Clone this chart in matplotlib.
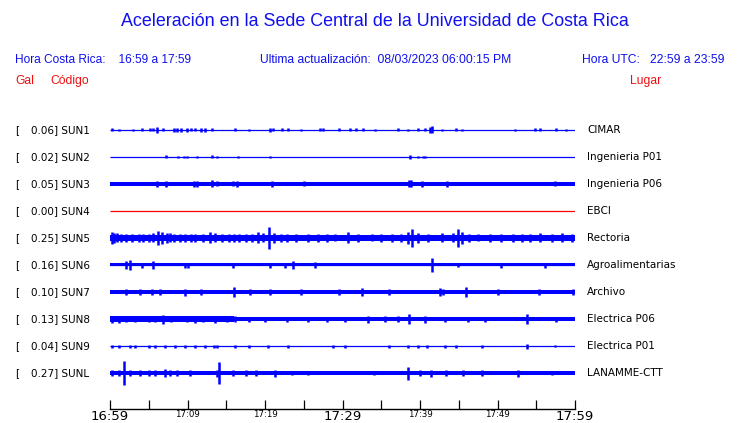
import matplotlib
matplotlib.use("Agg")
import matplotlib.pyplot as plt
from matplotlib.transforms import blended_transform_factory

# station table
codes = ["SUN1", "SUN2", "SUN3", "SUN4", "SUN5", "SUN6", "SUN7", "SUN8", "SUN9", "SUNL"]
gals = [0.06, 0.02, 0.05, 0.00, 0.25, 0.16, 0.10, 0.13, 0.04, 0.27]
places = ["CIMAR", "Ingenieria P01", "Ingenieria P06", "EBCI", "Rectoria",
          "Agroalimentarias", "Archivo", "Electrica P06", "Electrica P01", "LANAMME-CTT"]
trace_colors = ["blue", "blue", "blue", "red", "blue", "blue", "blue", "blue", "blue", "blue"]

# background noise level (start min, end min, half amplitude) per station
noise = [
    [(0, 60, 0.5)],
    [(0, 60, 0.4)],
    [(0, 60, 1.8)],
    [(0, 60, 0.3)],
    [(0, 60, 3.0)],
    [(0, 60, 1.5)],
    [(0, 60, 2.0)],
    [(0, 16, 2.7), (16, 60, 1.8)],
    [(0, 60, 0.5)],
    [(0, 60, 1.8)],
]

# bursts: (minute, half amplitude)
bursts = [
    [(0.2, 1.5), (1.1, 1), (3.0, 1), (4.1, 1.5), (5.2, 1.5), (5.6, 1.5), (6.0, 3), (6.9, 1.5),
     (8.2, 2), (8.6, 2), (9.2, 2), (9.9, 2), (10.5, 1.5), (11.0, 1.5), (11.8, 2), (12.3, 2),
     (13.1, 1.5), (16.1, 1.5), (17.9, 1), (20.7, 2), (21.0, 1.5), (22.2, 1.5), (23.0, 1.5),
     (24.7, 1), (27.1, 1.5), (27.5, 1.5), (29.5, 1.5), (31.0, 1.5), (31.8, 1.5), (32.7, 1.5),
     (34.2, 1), (37.2, 1.5), (38.5, 1), (39.8, 1.5), (40.6, 1.5), (41.3, 3), (41.6, 3.5),
     (42.8, 1), (44.7, 1.5), (45.4, 1), (52.3, 1), (54.8, 1.5), (55.5, 1.5), (57.6, 1.5), (58.9, 1)],
    [(7.2, 1.5), (8.8, 1), (9.5, 1), (9.9, 1), (11.2, 1), (13.1, 1.5), (13.8, 1), (16.5, 1),
     (20.6, 1), (38.7, 2), (39.8, 1), (40.4, 1), (40.7, 1)],
    [(6.0, 3), (7.2, 3), (10.9, 3), (11.2, 3), (13.1, 3.5), (13.8, 2.5), (15.9, 2.5), (16.4, 3),
     (20.9, 3), (25.0, 2.5), (38.6, 3.5), (38.8, 3.5), (40.2, 3), (43.5, 3), (57.4, 2.5)],
    [],
    [(0.2, 6), (0.5, 5), (0.9, 4.5), (1.4, 4), (2.0, 4), (2.8, 4), (3.7, 4), (4.3, 4), (5.0, 4),
     (5.6, 4.5), (6.2, 7), (6.7, 6), (7.3, 5), (7.8, 4.5), (8.2, 4), (9.0, 4), (9.7, 4),
     (10.4, 4), (11.0, 4), (12.0, 4), (12.9, 5.5), (13.6, 4.5), (14.4, 4), (15.3, 4), (16.0, 4),
     (16.6, 4), (17.5, 4), (18.3, 4), (19.1, 5.5), (19.8, 4.5), (20.5, 11), (21.1, 5),
     (22.0, 4), (22.8, 4), (24.0, 4), (25.6, 4), (26.9, 4), (28.0, 4), (29.0, 3.5), (30.7, 5.5),
     (32.0, 4), (33.8, 3.5), (35.0, 4), (36.4, 4), (37.5, 4), (38.5, 6), (39.0, 9), (39.8, 5),
     (41.0, 4), (42.8, 4.5), (44.2, 4.5), (44.9, 9), (45.4, 6), (46.3, 4), (47.5, 3.5),
     (49.0, 4), (50.5, 4), (52.0, 4), (53.1, 4), (54.2, 4), (55.5, 4.5), (57.0, 4), (58.3, 4.5),
     (59.6, 4)],
    [(2.1, 3.5), (2.6, 4.5), (4.1, 2.5), (5.6, 3.5), (9.7, 2.5), (10.1, 2.5), (15.9, 2.5),
     (20.6, 2.5), (22.6, 2.5), (23.6, 4), (26.4, 3), (41.5, 7), (44.9, 2), (50.5, 2.5), (56.1, 2.5)],
    [(2.0, 3), (3.9, 3), (5.4, 3), (6.5, 3), (9.7, 3.5), (11.8, 3), (16.0, 4.5), (18.1, 3),
     (20.6, 3), (24.7, 3), (29.5, 3), (32.5, 4), (36.0, 3), (42.6, 4), (43.0, 3), (45.9, 5),
     (50.1, 3), (55.3, 3), (59.8, 3)],
    [(0.2, 3.5), (1.1, 3.5), (2.0, 3), (3.2, 3), (5.0, 3), (5.8, 3), (6.9, 4.5), (7.9, 3),
     (9.9, 3), (11.0, 3.5), (12.0, 3), (13.6, 3.5), (15.1, 3), (16.1, 3), (17.9, 2.5), (20.0, 2.5),
     (22.8, 2.5), (25.6, 2.5), (28.0, 2.5), (30.3, 2.5), (33.3, 3.5), (35.5, 3), (37.2, 3),
     (38.6, 5.5), (40.6, 3.5), (43.2, 2.5), (46.2, 2.5), (48.4, 2.5), (53.8, 5), (57.6, 2.5)],
    [(0.2, 1.5), (1.1, 1.5), (2.6, 1.5), (3.2, 1.5), (5.0, 1.5), (5.8, 1.5), (7.1, 1.5), (8.4, 1.5),
     (9.7, 1.5), (11.0, 1.5), (12.3, 1.5), (13.4, 1.5), (13.8, 1.5), (16.1, 1.5), (17.9, 1.5),
     (20.4, 1.5), (23.0, 1.5), (28.8, 1.5), (30.3, 1.5), (36.0, 1.5), (38.5, 1.5), (39.8, 1.5),
     (40.9, 1.5), (43.2, 1.5), (44.7, 1.5), (48.0, 1.5), (53.8, 2.5), (57.4, 1)],
    [(0.2, 2.5), (1.1, 2.5), (1.85, 12), (2.6, 3), (3.9, 2.5), (5.0, 2.5), (5.8, 2.5), (7.1, 4),
     (7.7, 2.5), (8.6, 2.5), (10.3, 2.5), (13.8, 3.5), (14.0, 11), (15.9, 2.5), (17.6, 2.5),
     (18.9, 2.5), (21.3, 3.5), (23.5, 2), (25.6, 2), (34.0, 2), (38.4, 6.5), (40.0, 2.5),
     (41.4, 3.5), (43.4, 2.5), (45.6, 2.5), (48.0, 2.5), (52.6, 3.5), (57.0, 2)],
]

tick_minutes = list(range(0, 61, 5))
tick_labels = {0: "16:59", 10: "17:09", 20: "17:19", 30: "17:29",
               40: "17:39", 50: "17:49", 60: "17:59"}

W, H = 740, 423
SCALE = 27.0  # amplitude units per row spacing

fig = plt.figure(figsize=(W / 100, H / 100), dpi=100)


def fx(px):
    return px / W


def fy(py):
    return 1 - py / H


ax = fig.add_axes([fx(110), fy(409), fx(575) - fx(110), fy(116) - fy(409)])
ax.set_xlim(0, 60)
ax.set_ylim((409 - 130) / SCALE, (116 - 130) / SCALE)

for i in range(len(codes)):
    c = trace_colors[i]
    for t0, t1, a in noise[i]:
        if a >= 1:
            ax.fill_between([t0, t1], i - a / SCALE, i + a / SCALE, color=c, lw=0, zorder=2)
        ax.hlines(i, t0, t1, color=c, lw=0.9, zorder=2)
    if bursts[i]:
        xs = [b[0] for b in bursts[i]]
        amp = [b[1] / SCALE for b in bursts[i]]
        ax.vlines(xs, [i - a for a in amp], [i + a for a in amp], color=c, lw=1.8, zorder=3)

for s in ["top", "left", "right"]:
    ax.spines[s].set_visible(False)
ax.spines["bottom"].set_linewidth(1.0)
ax.set_yticks([])
ax.set_xticks(tick_minutes)
ax.set_xticklabels([tick_labels.get(m, "") for m in tick_minutes])
ax.tick_params(axis="x", direction="in", length=6.5, width=0.9, pad=0.5)
for m, lab in zip(tick_minutes, ax.get_xticklabels()):
    lab.set_fontsize(9.5 if m in (0, 30, 60) else 6.2)

# row labels
tr = blended_transform_factory(fig.transFigure, ax.transData)
for i in range(len(codes)):
    ax.text(fx(15), i, "[", transform=tr, fontsize=7.5, va="center", ha="left", family="DejaVu Sans")
    ax.text(fx(31), i, f"{gals[i]:.2f}] {codes[i]}", transform=tr, fontsize=7.5,
            va="center", ha="left", family="DejaVu Sans")
    ax.text(fx(587), i, places[i], transform=tr, fontsize=7.5, va="center", ha="left",
            family="DejaVu Sans")

hdr = dict(family="Liberation Sans", color="#1010ee")
fig.text(fx(375), fy(22), "Aceleración en la Sede Central de la Universidad de Costa Rica",
         ha="center", va="center", fontsize=12.9, **hdr)
fig.text(fx(15), fy(60), "Hora Costa Rica:    16:59 a 17:59", ha="left", va="center",
         fontsize=8.6, **hdr)
fig.text(fx(260), fy(60), "Ultima actualización:  08/03/2023 06:00:15 PM", ha="left",
         va="center", fontsize=8.7, **hdr)
fig.text(fx(725), fy(60), "Hora UTC:   22:59 a 23:59", ha="right", va="center",
         fontsize=8.7, **hdr)
red = dict(family="Liberation Sans", color="#ee1010", fontsize=8.7, va="center", ha="left")
fig.text(fx(15), fy(81), "Gal", **red)
fig.text(fx(50), fy(81), "Código", **red)
fig.text(fx(630), fy(81), "Lugar", **red)

fig.savefig("out.png", dpi=100)
